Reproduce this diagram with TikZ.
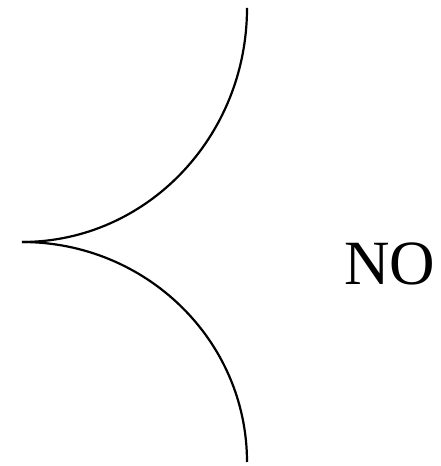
\documentclass[tikz,border=0pt]{standalone}
\usepackage{fontspec}
\setmainfont{Liberation Serif}
\begin{document}
\begin{tikzpicture}[x=1pt,y=1pt, every node/.style={font=\fontsize{63}{70}\selectfont}]
\useasboundingbox (0,0) rectangle (440,466);
\coordinate (top) at (247,458);
\coordinate (cusp) at (22,224);
\coordinate (bot) at (247,4);
\draw[line width=2.2pt] (top) arc[start angle=0, end angle=-90, x radius=225, y radius=234];
\draw[line width=2.2pt] (cusp) arc[start angle=90, end angle=0, x radius=225, y radius=220];
\node[anchor=base, inner sep=0pt] (no) at (390,181) {NO};
\end{tikzpicture}
\end{document}
